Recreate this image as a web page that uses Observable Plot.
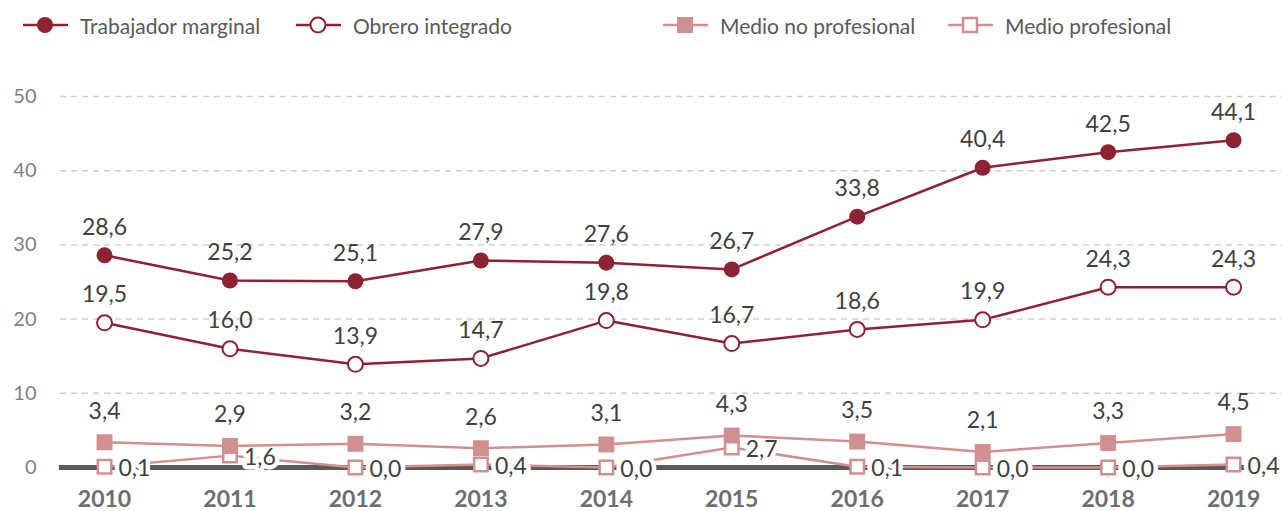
<!DOCTYPE html>
<html>
<head>
<meta charset="utf-8">
<script src="https://cdn.jsdelivr.net/npm/d3@7"></script>
<script src="https://cdn.jsdelivr.net/npm/@observablehq/plot@0.6"></script>
<style>
  body { margin: 0; background: #fff; font-family: Lato, "Noto Sans", sans-serif; }
  #wrap { position: relative; width: 1282px; height: 511px; }
  #legend { position: relative; width: 1282px; height: 50px; }
  .item { position: absolute; top: 8px; height: 34px; display: flex; align-items: center; color: #595959; font-size: 21px; white-space: nowrap; }
  .item svg { margin-right: 12px; }
</style>
</head>
<body>
<div id="wrap">
  <div id="legend"></div>
  <div id="chart"></div>
</div>
<script>
const years = [2010, 2011, 2012, 2013, 2014, 2015, 2016, 2017, 2018, 2019];
const marginal = [28.6, 25.2, 25.1, 27.9, 27.6, 26.7, 33.8, 40.4, 42.5, 44.1];
const obrero = [19.5, 16.0, 13.9, 14.7, 19.8, 16.7, 18.6, 19.9, 24.3, 24.3];
const medioNoProf = [3.4, 2.9, 3.2, 2.6, 3.1, 4.3, 3.5, 2.1, 3.3, 4.5];
const medioProf = [0.1, 1.6, 0.0, 0.4, 0.0, 2.7, 0.1, 0.0, 0.0, 0.4];
const seriesNames = ["Trabajador marginal", "Obrero integrado", "Medio no profesional", "Medio profesional"];
const yTicks = [0, 10, 20, 30, 40, 50];

const dark = "#8c2232";
const light = "#d09090";
const fmt = v => v.toFixed(1).replace(".", ",");
const rows = arr => years.map((year, i) => ({year, value: arr[i]}));
const r1 = rows(marginal), r2 = rows(obrero), r3 = rows(medioNoProf), r4 = rows(medioProf);

// Legend
const legendSpecs = [
  {name: seriesNames[0], left: 23, color: dark, shape: "circle", filled: true},
  {name: seriesNames[1], left: 296, color: dark, shape: "circle", filled: false},
  {name: seriesNames[2], left: 663, color: light, shape: "square", filled: true},
  {name: seriesNames[3], left: 948, color: light, shape: "square", filled: false}
];
const legend = document.getElementById("legend");
for (const s of legendSpecs) {
  const div = document.createElement("div");
  div.className = "item";
  div.style.left = s.left + "px";
  let marker;
  if (s.shape === "circle") {
    marker = s.filled
      ? `<circle cx="22" cy="17" r="8" fill="${s.color}"/>`
      : `<circle cx="22" cy="17" r="7.5" fill="#fff" stroke="${s.color}" stroke-width="2"/>`;
  } else {
    marker = s.filled
      ? `<rect x="14" y="9" width="16" height="16" fill="${s.color}"/>`
      : `<rect x="15" y="10" width="14" height="14" fill="#fff" stroke="${s.color}" stroke-width="2.5"/>`;
  }
  div.innerHTML = `<svg width="45" height="34"><line x1="0" x2="45" y1="17" y2="17" stroke="${s.color}" stroke-width="2.5"/>${marker}</svg><span>${s.name}</span>`;
  legend.appendChild(div);
}

const labelColor = "#404040";
const chart = Plot.plot({
  width: 1282,
  height: 461,
  marginLeft: 60,
  marginRight: 0,
  marginTop: 46,
  marginBottom: 44,
  style: {fontFamily: "Lato, 'Noto Sans', sans-serif", background: "white"},
  x: {type: "linear", domain: [2009.649, 2019.39], label: null},
  y: {domain: [0, 50], label: null},
  marks: [
    Plot.ruleY(yTicks.filter(d => d > 0), {stroke: "#cfcfcf", strokeWidth: 1.5, strokeDasharray: "6,5"}),
    Plot.ruleY([0], {x1: 2009.64, x2: 2019.12, stroke: "#595959", strokeWidth: 5}),
    Plot.axisY({ticks: yTicks, tickSize: 0, tickPadding: 24, fontSize: 20, fill: "#808080", tickFormat: d => String(d), label: null}),
    Plot.axisX({ticks: years, tickSize: 0, tickPadding: 23, fontSize: 23, fontWeight: "bold", fill: "#6e6e6e", tickFormat: d => String(d), label: null}),
    // Medio profesional
    Plot.line(r4, {x: "year", y: "value", stroke: light, strokeWidth: 2.5}),
    Plot.text(r4, {x: "year", y: "value", text: d => fmt(d.value), dx: 14, dy: 2, textAnchor: "start", fontSize: 23, fill: labelColor, stroke: "white", strokeWidth: 9}),
    Plot.dot(r4, {x: "year", y: "value", symbol: "square", r: 7.6, fill: "white", stroke: light, strokeWidth: 2.5}),
    // Medio no profesional
    Plot.line(r3, {x: "year", y: "value", stroke: light, strokeWidth: 2.5}),
    Plot.dot(r3, {x: "year", y: "value", symbol: "square", r: 9, fill: light}),
    Plot.text(r3, {x: "year", y: "value", text: d => fmt(d.value), dy: -31, fontSize: 23, fill: labelColor}),
    // Obrero integrado
    Plot.line(r2, {x: "year", y: "value", stroke: dark, strokeWidth: 2.5}),
    Plot.dot(r2, {x: "year", y: "value", r: 7.5, fill: "white", stroke: dark, strokeWidth: 2}),
    Plot.text(r2, {x: "year", y: "value", text: d => fmt(d.value), dy: -28, fontSize: 23, fill: labelColor}),
    // Trabajador marginal
    Plot.line(r1, {x: "year", y: "value", stroke: dark, strokeWidth: 2.5}),
    Plot.dot(r1, {x: "year", y: "value", r: 8, fill: dark}),
    Plot.text(r1, {x: "year", y: "value", text: d => fmt(d.value), dy: -28, fontSize: 23, fill: labelColor})
  ]
});
document.getElementById("chart").appendChild(chart);
</script>
</body>
</html>
